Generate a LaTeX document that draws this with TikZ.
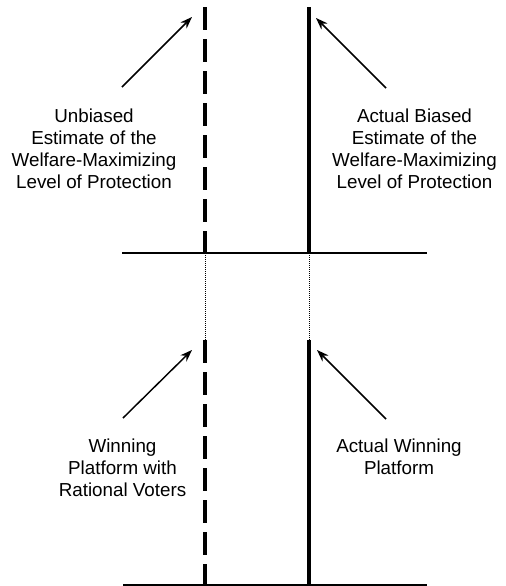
\documentclass[tikz,border=0pt]{standalone}
\usepackage{fontspec}
\setmainfont{Liberation Sans}
\usetikzlibrary{arrows.meta}
\tikzset{
  lbl/.style={align=center, inner sep=0pt, anchor=base, font=\fontsize{14.1}{16.3}\selectfont},
  estline/.style={line width=3pt, dash pattern=on 17.5pt off 6.5pt},
  actline/.style={line width=3pt},
  axisline/.style={line width=1.5pt},
  guide/.style={line width=0.7pt, dash pattern=on 0.75pt off 0.75pt},
  pointer/.style={line width=1.1pt, -{Stealth[length=9pt,width=6.5pt]}}
}
\begin{document}
\begin{tikzpicture}[x=0.75pt, y=-0.75pt]
\useasboundingbox (0,0) rectangle (506,586);
% coordinates
\coordinate (ut1) at (205,7);
\coordinate (ub1) at (205,253);
\coordinate (at1) at (309,7);
\coordinate (ab1) at (309,253);
\coordinate (h1l) at (122,253);
\coordinate (h1r) at (427,253);
\coordinate (ut2) at (205,340);
\coordinate (ub2) at (205,585);
\coordinate (at2) at (309,340);
\coordinate (ab2) at (309,585);
\coordinate (h2l) at (123,585);
\coordinate (h2r) at (427,585);
% upper panel
\draw[estline] (ut1) -- (ub1);
\draw[actline] (at1) -- (ab1);
\draw[axisline] (h1l) -- (h1r);
% guides
\draw[guide] (ub1) -- (ut2);
\draw[guide] (ab1) -- (at2);
% lower panel
\draw[estline] (ut2) -- (ub2);
\draw[actline] (at2) -- (ab2);
\draw[axisline] (h2l) -- (h2r);
% labels (base anchor = baseline of last line)
\node[lbl] (unb) at (94,188) {Unbiased\\Estimate of the\\Welfare-Maximizing\\Level of Protection};
\node[lbl] (act) at (414.5,188) {Actual Biased\\Estimate of the\\Welfare-Maximizing\\Level of Protection};
\node[lbl] (win) at (122.5,496) {Winning\\Platform with\\Rational Voters};
\node[lbl] (awin) at (399,474) {Actual Winning\\Platform};
% arrows
\coordinate (a1s) at (122,87);
\coordinate (a1e) at (192,17);
\coordinate (a2s) at (386,88);
\coordinate (a2e) at (316,18);
\coordinate (a3s) at (123,418);
\coordinate (a3e) at (192,350);
\coordinate (a4s) at (386,419);
\coordinate (a4e) at (317,350);
\draw[pointer] (a1s) -- (a1e);
\draw[pointer] (a2s) -- (a2e);
\draw[pointer] (a3s) -- (a3e);
\draw[pointer] (a4s) -- (a4e);
\end{tikzpicture}
\end{document}
